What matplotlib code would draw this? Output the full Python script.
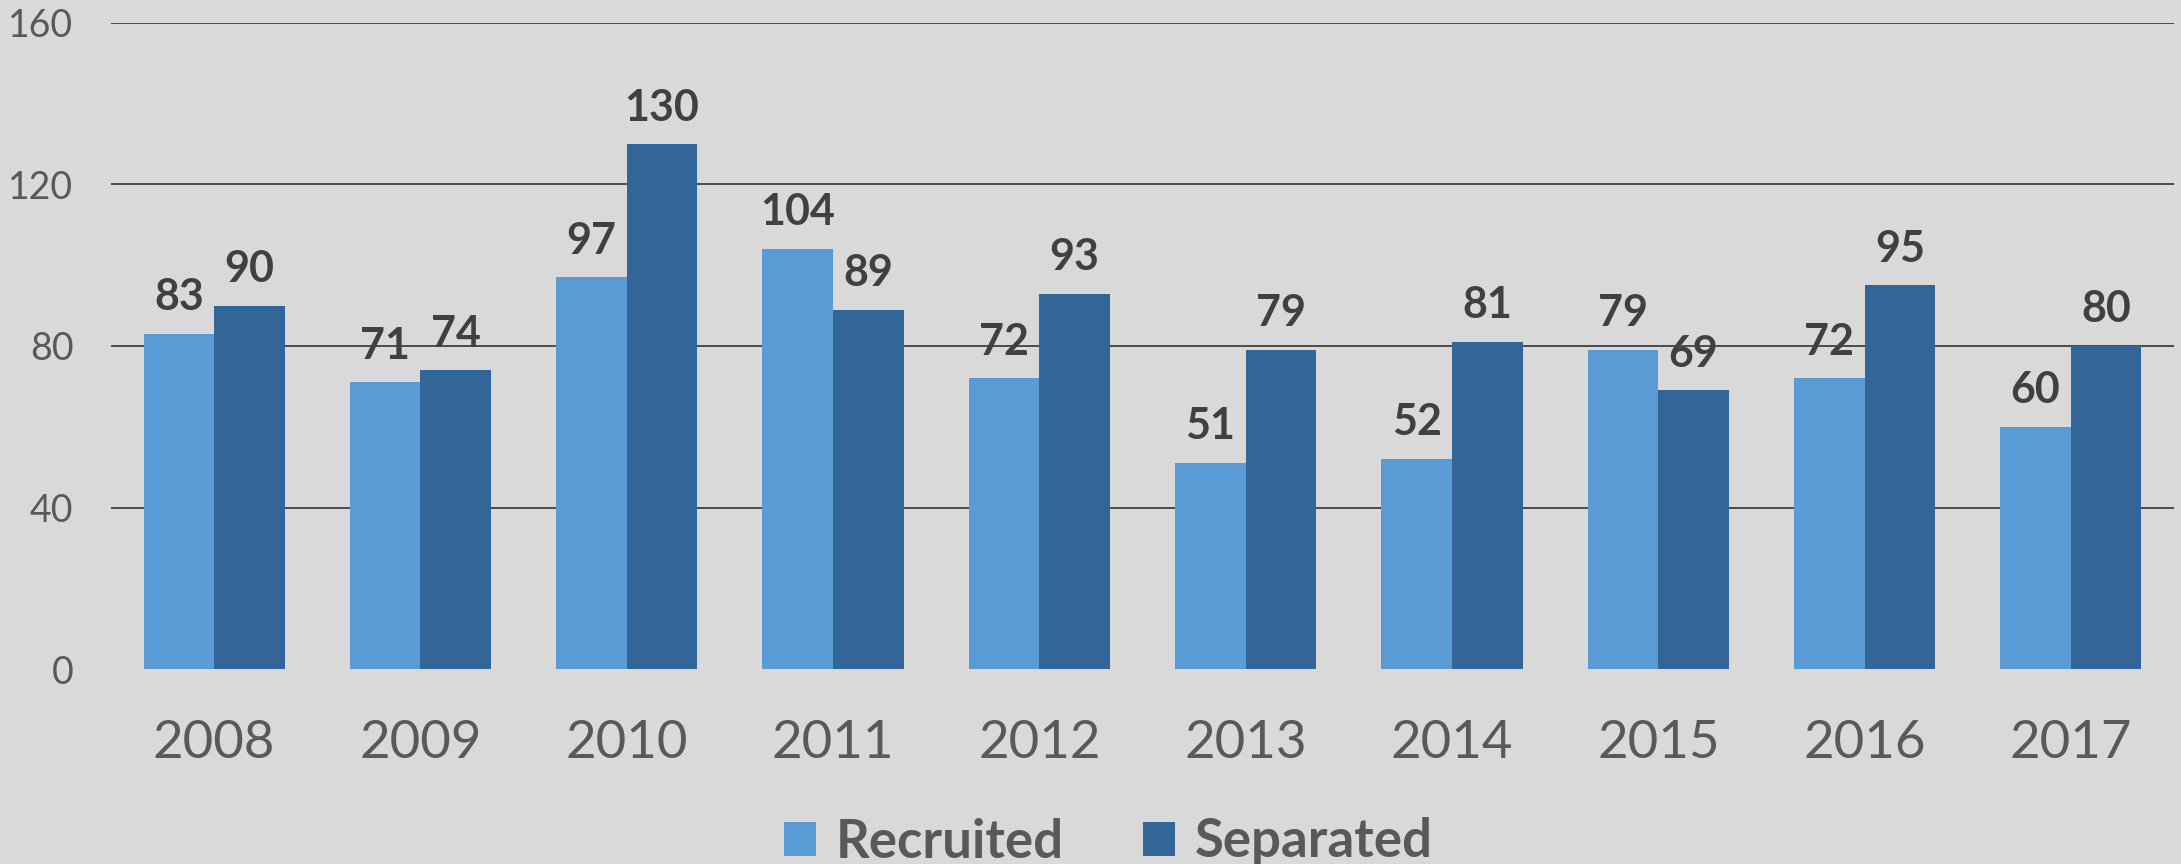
import numpy as np
import matplotlib
matplotlib.use('Agg')
import matplotlib.pyplot as plt

# --- data ---
years = ['2008', '2009', '2010', '2011', '2012', '2013', '2014', '2015', '2016', '2017']
recruited = [83, 71, 97, 104, 72, 51, 52, 79, 72, 60]
separated = [90, 74, 130, 89, 93, 79, 81, 69, 95, 80]
y_ticks = [0, 40, 80, 120, 160]

plt.rcParams['font.family'] = ['Lato', 'DejaVu Sans']

bg = '#D9D9D9'
c_rec = '#5B9BD5'
c_sep = '#326699'
tick_color = '#595959'
label_color = '#404040'

fig = plt.figure(figsize=(21.81, 8.64), dpi=100, facecolor=bg)
ax = fig.add_axes([111 / 2181, 1 - 669 / 864, (2174 - 111) / 2181, (669 - 23) / 864])
ax.set_facecolor(bg)

x = np.arange(len(years))
w = 0.342
b1 = ax.bar(x - w / 2, recruited, w, color=c_rec, label='Recruited', zorder=3)
b2 = ax.bar(x + w / 2, separated, w, color=c_sep, label='Separated', zorder=3)

# value labels above bars
for bars, vals in ((b1, recruited), (b2, separated)):
    for rect, v in zip(bars, vals):
        ax.annotate(str(v), (rect.get_x() + rect.get_width() / 2, v),
                    xytext=(0, 17), textcoords='offset points',
                    ha='center', va='baseline', fontsize=31,
                    fontweight='bold', color=label_color, zorder=4)

ax.set_xlim(-0.5, len(years) - 0.5)
ax.set_ylim(0, 160)
ax.set_yticks(y_ticks)
ax.set_xticks(x)
ax.set_xticklabels(years)

# horizontal gridlines (none at 0)
for t in y_ticks[1:]:
    ax.axhline(t, color='#404040', linewidth=1.3, zorder=1)

ax.tick_params(axis='y', length=0, pad=27, labelsize=27, labelcolor=tick_color)
ax.tick_params(axis='x', length=0, pad=37, labelsize=38, labelcolor=tick_color)
for s in ax.spines.values():
    s.set_visible(False)

fig.legend(handles=[b1, b2], loc='center', bbox_to_anchor=(1108 / 2181, 1 - 842 / 864),
           ncol=2, frameon=False, prop={'size': 38, 'weight': 'bold'},
           labelcolor=tick_color, handlelength=0.62, handleheight=0.62,
           handletextpad=0.36, columnspacing=1.5, borderpad=0)

fig.savefig('out.png', dpi=100, facecolor=bg)
